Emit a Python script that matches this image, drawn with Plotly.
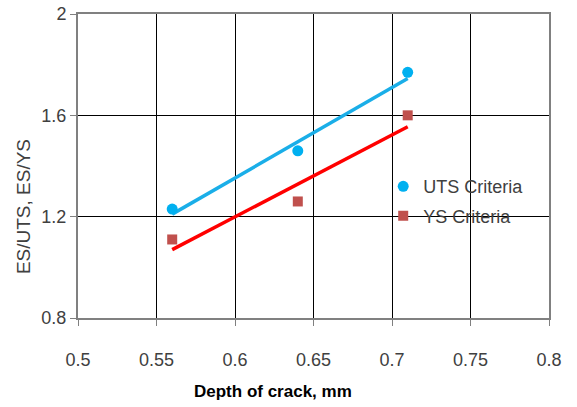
import plotly.graph_objects as go

depth = [0.56, 0.64, 0.71]
uts_ratio = [1.23, 1.46, 1.77]
ys_ratio = [1.11, 1.26, 1.60]
fit_x = [0.56, 0.71]
uts_fit = [1.21, 1.745]
ys_fit = [1.07, 1.555]
x_ticks = [0.5, 0.55, 0.6, 0.65, 0.7, 0.75, 0.8]
y_ticks = [0.8, 1.2, 1.6, 2.0]
y_tick_text = ["0.8", "1.2", "1.6", "2"]

fig = go.Figure()
fig.add_trace(go.Scatter(x=fit_x, y=uts_fit, mode="lines", line=dict(color="#1AAEE8", width=3.5),
                         showlegend=False, hoverinfo="skip"))
fig.add_trace(go.Scatter(x=fit_x, y=ys_fit, mode="lines", line=dict(color="#FF0000", width=3.5),
                         showlegend=False, hoverinfo="skip"))
fig.add_trace(go.Scatter(x=depth, y=uts_ratio, mode="markers", name="UTS Criteria",
                         legendgroup="a",
                         marker=dict(symbol="circle", size=11, color="#00B0F0")))
fig.add_trace(go.Scatter(x=depth, y=ys_ratio, mode="markers", name="YS Criteria",
                         legendgroup="b",
                         marker=dict(symbol="square", size=10, color="#C0504D")))

fig.update_layout(
    width=577, height=407,
    margin=dict(l=78, r=28, t=14, b=89),
    paper_bgcolor="white", plot_bgcolor="white",
    font=dict(family="Arial, Liberation Sans, sans-serif", size=18, color="#404040"),
    legend=dict(x=0.648, y=0.493, xanchor="left", yanchor="top",
                bgcolor="rgba(0,0,0,0)", font=dict(size=18, color="#404040"),
                tracegroupgap=3, itemwidth=30, traceorder="grouped"),
    xaxis=dict(range=[0.5, 0.8], tickvals=x_ticks, showgrid=True, gridcolor="black", gridwidth=1,
               showline=True, linecolor="#808080", linewidth=2, mirror=True,
               ticks="outside", ticklen=6, tickcolor="#808080", ticklabelstandoff=18,
               zeroline=False, automargin=False),
    yaxis=dict(range=[0.8, 2.0], tickvals=y_ticks, ticktext=y_tick_text, showgrid=True,
               gridcolor="black", gridwidth=1,
               showline=True, linecolor="#808080", linewidth=2, mirror=True,
               ticks="outside", ticklen=6, tickcolor="#808080", zeroline=False,
               automargin=False),
    annotations=[
        dict(text="<b>Depth of crack, mm</b>", xref="paper", yref="paper", x=0.414, y=-0.243,
             xanchor="center", yanchor="middle", showarrow=False,
             font=dict(size=17, color="black")),
        dict(text="ES/UTS, ES/YS", xref="paper", yref="paper", x=-0.1168, y=0.368,
             xanchor="center", yanchor="middle", showarrow=False, textangle=-90,
             font=dict(size=19, color="#404040")),
    ],
)

fig.write_html("out.html")
